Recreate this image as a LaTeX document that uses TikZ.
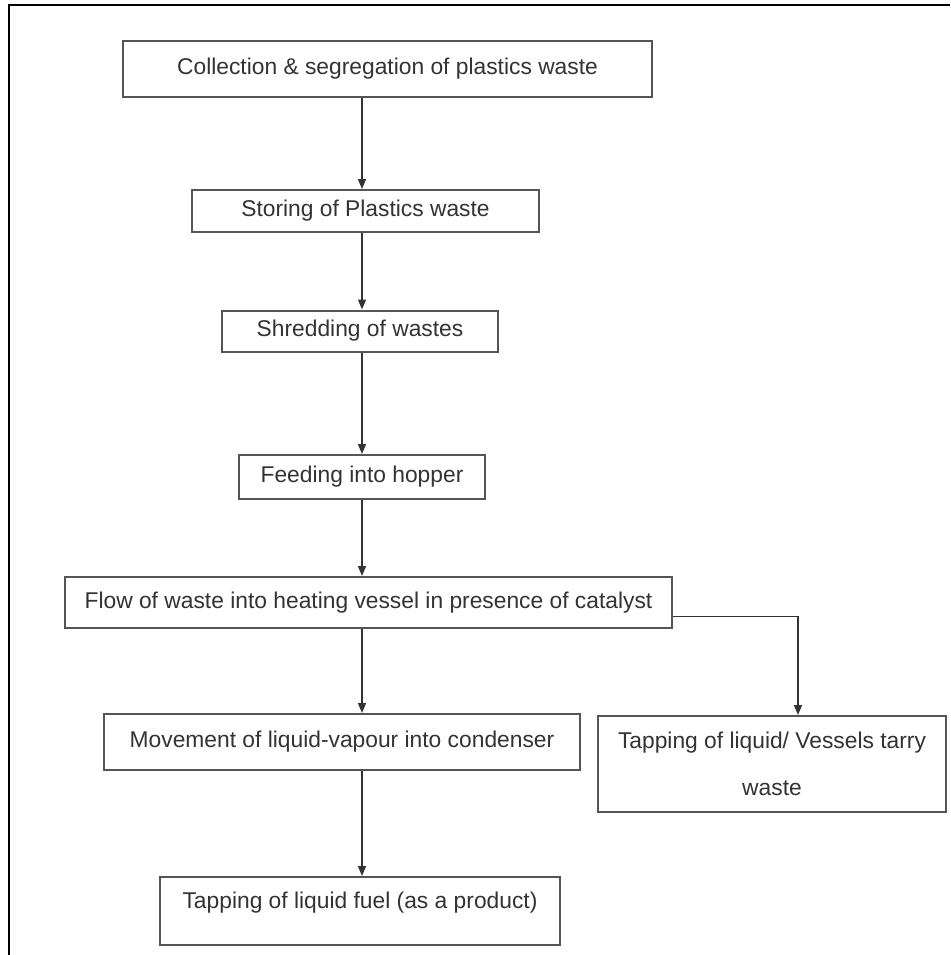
\documentclass[tikz,border=0pt]{standalone}
\usepackage{fontspec}
\setmainfont{Liberation Sans}
\usetikzlibrary{arrows.meta}
\definecolor{boxgray}{HTML}{555555}
\definecolor{textgray}{HTML}{333333}

\begin{document}
\begin{tikzpicture}[x=0.5pt, y=-0.5pt,
	stepbox/.style={draw=boxgray, line width=1pt, fill=white, inner sep=0pt,
		text=textgray, align=center,
		font=\fontsize{11.4}{13.5}\selectfont},
	flow/.style={draw=black!80, line width=0.75pt,
		-{Triangle[length=5pt, width=4pt]}}]
	%%%%% START %%%%%

	\useasboundingbox (0, 0) rectangle (950, 955);

	% outer frame (cut at right and bottom)
	\draw[line width=1pt] (9, 955) -- (9, 5) -- (950, 5);

	\coordinate (spine) at (362, 0);

	\node[stepbox, minimum width=264.5pt, minimum height=28pt] (coll) at (387.5, 69) {Collection \& segregation of plastics waste};
	\node[stepbox, minimum width=173.5pt, minimum height=21pt] (stor) at (365.5, 211) {Storing of Plastics waste};
	\node[stepbox, minimum width=138pt, minimum height=20.5pt] (shred) at (360, 331) {Shredding of wastes};
	\node[stepbox, minimum width=123pt, minimum height=22pt] (feed) at (362, 477) {Feeding into hopper};
	\node[stepbox, minimum width=303.5pt, minimum height=25.5pt] (heat) at (368.5, 602.5) {Flow of waste into heating vessel in presence of catalyst};
	\node[stepbox, minimum width=238pt, minimum height=28pt] (cond) at (342, 742) {Movement of liquid-vapour into condenser};
	\node[stepbox, minimum width=174pt, minimum height=48pt] (tarry) at (772, 764) {Tapping of liquid/ Vessels tarry\\[10pt]waste};
	\node[stepbox, minimum width=200pt, minimum height=34pt, text height=8.5pt, text depth=11pt] (fuel) at (360, 911) {Tapping of liquid fuel (as a product)};

	\draw[flow] (coll.south -| spine) -- (stor.north -| spine);
	\draw[flow] (stor.south -| spine) -- (shred.north -| spine);
	\draw[flow] (shred.south -| spine) -- (feed.north -| spine);
	\draw[flow] (feed.south -| spine) -- (heat.north -| spine);
	\draw[flow] (heat.south -| spine) -- (cond.north -| spine);
	\draw[flow] (cond.south -| spine) -- (fuel.north -| spine);
	\draw[flow] ([yshift=-7pt]heat.east) -| ([xshift=13pt]tarry.north);

	%%%%% END %%%%%
\end{tikzpicture}
\end{document}
